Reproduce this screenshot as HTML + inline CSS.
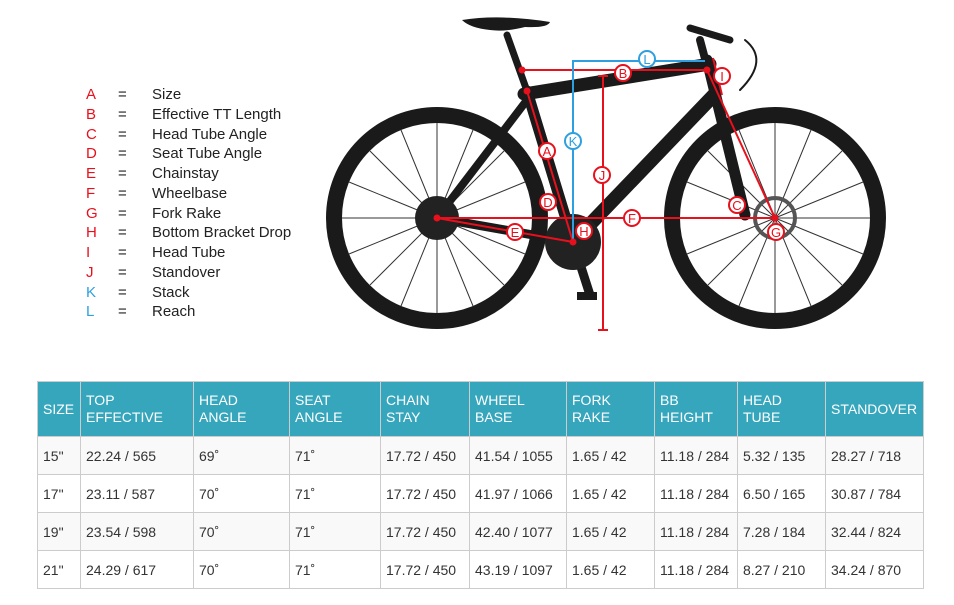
<!DOCTYPE html>
<html><head><meta charset="utf-8"><style>
body{margin:0;width:954px;height:605px;background:#fff;position:relative;overflow:hidden;font-family:"Liberation Sans",sans-serif}
.leg{position:absolute;left:0;top:0;font-size:15px;color:#222}
.leg div{position:absolute;white-space:nowrap;line-height:18px}
table{position:absolute;left:37px;top:381px;border-collapse:collapse;font-size:14px;color:#333}
th{background:#36a6bd;color:#fff;font-weight:normal;text-align:left;height:54px;padding:0 5px;border:1px solid #ccc;line-height:17px;vertical-align:middle}
td{height:37px;padding:0 5px;border:1px solid #ccc}
tr.o td{background:#f9f9f9}
</style></head><body>
<svg width="954" height="370" style="position:absolute;left:0;top:0">
<g fill="none" stroke="#1a1a1a">
<circle cx="437" cy="218" r="103" stroke-width="16"/>
<circle cx="775" cy="218" r="103" stroke-width="16"/>
</g>
<g stroke="#333" stroke-width="1">
<path d="M437 218 l0 -95 M437 218 l0 95 M437 218 l95 0 M437 218 l-95 0 M437 218 l67 -67 M437 218 l-67 67 M437 218 l67 67 M437 218 l-67 -67 M437 218 l36 -88 M437 218 l-36 88 M437 218 l88 36 M437 218 l-88 -36 M437 218 l-36 -88 M437 218 l36 88 M437 218 l88 -36 M437 218 l-88 36"/>
<path d="M775 218 l0 -95 M775 218 l0 95 M775 218 l95 0 M775 218 l-95 0 M775 218 l67 -67 M775 218 l-67 67 M775 218 l67 67 M775 218 l-67 -67 M775 218 l36 -88 M775 218 l-36 88 M775 218 l88 36 M775 218 l-88 -36 M775 218 l-36 -88 M775 218 l36 88 M775 218 l88 -36 M775 218 l-88 36"/>
</g>
<g stroke="#1a1a1a" stroke-linecap="round" fill="none">
<path d="M527 91 L573 242" stroke-width="11"/>
<path d="M524 94 L710 64" stroke-width="13"/>
<path d="M714 95 L573 242" stroke-width="14"/>
<path d="M527 100 L437 218" stroke-width="8"/>
<path d="M437 218 L573 242" stroke-width="9"/>
<path d="M707 60 L745 215" stroke-width="11"/>
<path d="M507 35 L527 91" stroke-width="7"/>
<path d="M700 40 L708 70" stroke-width="8"/>
<path d="M690 28 L730 40" stroke-width="7"/>
<path d="M745 40 Q770 60 740 90" stroke-width="2"/>
<path d="M590 295 L573 242" stroke-width="9"/>
</g>
<path d="M462 20 Q500 14 550 22 Q548 28 525 27 Q505 32 490 30 Q470 28 462 20Z" fill="#1a1a1a"/>
<circle cx="573" cy="242" r="28" fill="#222"/>
<circle cx="437" cy="218" r="22" fill="#222"/>
<circle cx="775" cy="218" r="20" fill="none" stroke="#555" stroke-width="4"/>
<rect x="577" y="292" width="20" height="8" fill="#1a1a1a"/>
<g stroke="#e8101c" stroke-width="2" fill="none">
<path d="M522 70 L707 70"/><path d="M527 91 L573 242"/><path d="M437 218 L775 218"/>
<path d="M437 218 L573 242"/><path d="M707 70 L775 218"/><path d="M603 76 L603 330 M598 76 L608 76 M598 330 L608 330"/>
<path d="M713 58 L722 95"/>
</g>
<path d="M573 242 L573 61 L705 61" stroke="#2e9fe0" stroke-width="2" fill="none"/>
<g fill="#e8101c"><circle cx="522" cy="70" r="3.5"/><circle cx="527" cy="91" r="3.5"/><circle cx="707" cy="70" r="3.5"/><circle cx="437" cy="218" r="3.5"/><circle cx="573" cy="242" r="3.5"/><circle cx="775" cy="218" r="3.5"/></g>
<g font-size="13" text-anchor="middle" font-family="Liberation Sans,sans-serif">
<g fill="#fff" stroke="#e8101c" stroke-width="2">
<circle cx="547" cy="151" r="8"/><circle cx="623" cy="73" r="8"/><circle cx="737" cy="205" r="8"/><circle cx="548" cy="202" r="8"/><circle cx="515" cy="232" r="8"/><circle cx="632" cy="218" r="8"/><circle cx="776" cy="232" r="8"/><circle cx="584" cy="231" r="8"/><circle cx="722" cy="76" r="8"/><circle cx="602" cy="175" r="8"/></g>
<g fill="#fff" stroke="#2e9fe0" stroke-width="2"><circle cx="647" cy="59" r="8"/><circle cx="573" cy="141" r="8"/></g>
<g fill="#e8101c"><text x="547" y="156">A</text><text x="623" y="78">B</text><text x="737" y="210">C</text><text x="548" y="207">D</text><text x="515" y="237">E</text><text x="632" y="223">F</text><text x="776" y="237">G</text><text x="584" y="236">H</text><text x="722" y="81">I</text><text x="602" y="180">J</text></g>
<g fill="#2e9fe0"><text x="647" y="64">L</text><text x="573" y="146">K</text></g>
</g>
</svg>
<div class="leg">
<div style="left:86px;top:86px;color:#e8101c">A</div><div style="left:118px;top:86px">=</div><div style="left:152px;top:86px">Size</div>
<div style="left:86px;top:106px;color:#e8101c">B</div><div style="left:118px;top:106px">=</div><div style="left:152px;top:106px">Effective TT Length</div>
<div style="left:86px;top:126px;color:#e8101c">C</div><div style="left:118px;top:126px">=</div><div style="left:152px;top:126px">Head Tube Angle</div>
<div style="left:86px;top:145px;color:#e8101c">D</div><div style="left:118px;top:145px">=</div><div style="left:152px;top:145px">Seat Tube Angle</div>
<div style="left:86px;top:165px;color:#e8101c">E</div><div style="left:118px;top:165px">=</div><div style="left:152px;top:165px">Chainstay</div>
<div style="left:86px;top:185px;color:#e8101c">F</div><div style="left:118px;top:185px">=</div><div style="left:152px;top:185px">Wheelbase</div>
<div style="left:86px;top:205px;color:#e8101c">G</div><div style="left:118px;top:205px">=</div><div style="left:152px;top:205px">Fork Rake</div>
<div style="left:86px;top:224px;color:#e8101c">H</div><div style="left:118px;top:224px">=</div><div style="left:152px;top:224px">Bottom Bracket Drop</div>
<div style="left:86px;top:244px;color:#e8101c">I</div><div style="left:118px;top:244px">=</div><div style="left:152px;top:244px">Head Tube</div>
<div style="left:86px;top:264px;color:#e8101c">J</div><div style="left:118px;top:264px">=</div><div style="left:152px;top:264px">Standover</div>
<div style="left:86px;top:284px;color:#2e9fe0">K</div><div style="left:118px;top:284px">=</div><div style="left:152px;top:284px">Stack</div>
<div style="left:86px;top:303px;color:#2e9fe0">L</div><div style="left:118px;top:303px">=</div><div style="left:152px;top:303px">Reach</div>
</div>
<table>
<colgroup><col style="width:43px"><col style="width:113px"><col style="width:96px"><col style="width:91px"><col style="width:89px"><col style="width:97px"><col style="width:88px"><col style="width:83px"><col style="width:88px"><col style="width:98px"></colgroup>
<tr><th>SIZE</th><th>TOP<br>EFFECTIVE</th><th>HEAD<br>ANGLE</th><th>SEAT<br>ANGLE</th><th>CHAIN<br>STAY</th><th>WHEEL<br>BASE</th><th>FORK<br>RAKE</th><th>BB<br>HEIGHT</th><th>HEAD<br>TUBE</th><th>STANDOVER</th></tr>
<tr class="o"><td>15"</td><td>22.24 / 565</td><td>69˚</td><td>71˚</td><td>17.72 / 450</td><td>41.54 / 1055</td><td>1.65 / 42</td><td>11.18 / 284</td><td>5.32 / 135</td><td>28.27 / 718</td></tr>
<tr><td>17"</td><td>23.11 / 587</td><td>70˚</td><td>71˚</td><td>17.72 / 450</td><td>41.97 / 1066</td><td>1.65 / 42</td><td>11.18 / 284</td><td>6.50 / 165</td><td>30.87 / 784</td></tr>
<tr class="o"><td>19"</td><td>23.54 / 598</td><td>70˚</td><td>71˚</td><td>17.72 / 450</td><td>42.40 / 1077</td><td>1.65 / 42</td><td>11.18 / 284</td><td>7.28 / 184</td><td>32.44 / 824</td></tr>
<tr><td>21"</td><td>24.29 / 617</td><td>70˚</td><td>71˚</td><td>17.72 / 450</td><td>43.19 / 1097</td><td>1.65 / 42</td><td>11.18 / 284</td><td>8.27 / 210</td><td>34.24 / 870</td></tr>
</table>
</body></html>
